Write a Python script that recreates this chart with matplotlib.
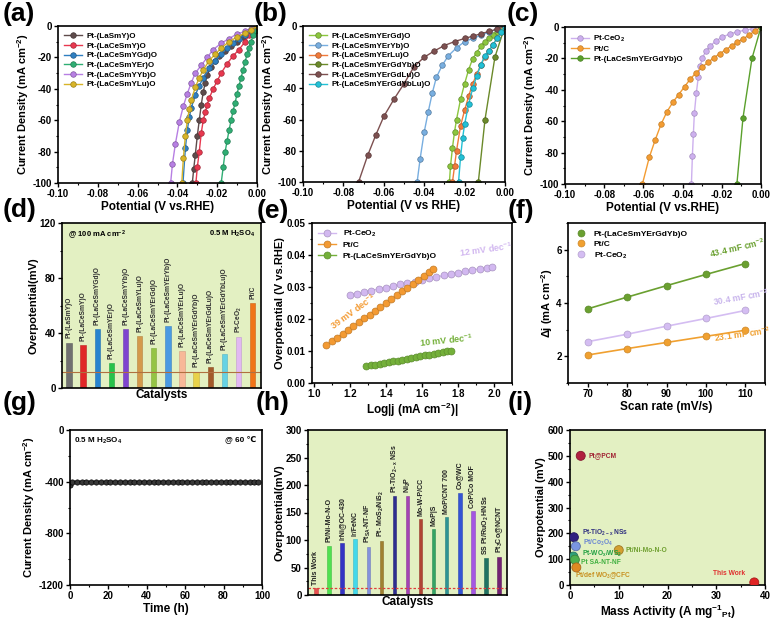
import matplotlib
matplotlib.use('Agg')
import matplotlib.pyplot as plt
from matplotlib.ticker import AutoMinorLocator

plt.rcParams['font.family'] = ['Liberation Sans', 'DejaVu Sans']
plt.rcParams['font.weight'] = 'bold'
plt.rcParams['axes.labelweight'] = 'bold'
plt.rcParams['mathtext.default'] = 'regular'
plt.rcParams['axes.unicode_minus'] = False

# ---------------- (a) LSV curves ----------------
a_names = ['Pt-(LaSmY)O', 'Pt-(LaCeSmY)O', 'Pt-(LaCeSmYGd)O',
           'Pt-(LaCeSmYEr)O', 'Pt-(LaCeSmYYb)O', 'Pt-(LaCeSmYLu)O']
a_colors = ['#5e4b4b', '#e8384f', '#2f7fc1', '#2fae74', '#b77fe3', '#d8b428']
a_v_lasmy = [0, -0.002, -0.004, -0.007, -0.010, -0.013, -0.016, -0.019, -0.021, -0.023,
             -0.025, -0.026, -0.027, -0.028, -0.029, -0.030, -0.031, -0.0318, -0.0325]
a_j_lasmy = [0, -2, -4, -7, -10, -13, -16, -19, -22, -26, -31, -36, -42, -50, -60, -70, -82, -91, -100]
a_v_lacesmy = [0, -0.002, -0.004, -0.006, -0.009, -0.012, -0.015, -0.018, -0.020, -0.022,
               -0.024, -0.025, -0.026, -0.027, -0.028, -0.029, -0.030, -0.0307]
a_j_lacesmy = [0, -3, -6, -10, -15, -19, -24, -30, -35, -40, -46, -50, -55, -60, -68, -80, -90, -100]
a_v_gd = [0, -0.003, -0.006, -0.009, -0.012, -0.015, -0.018, -0.021, -0.024, -0.027,
          -0.029, -0.031, -0.033, -0.034, -0.035, -0.036, -0.0372]
a_j_gd = [0, -3, -5.5, -8, -11, -14, -18, -22, -27, -33, -38, -44, -52, -58, -66, -78, -100]
a_v_er = [0, -0.001, -0.002, -0.003, -0.004, -0.005, -0.006, -0.007, -0.008, -0.009,
          -0.010, -0.011, -0.012, -0.013, -0.014, -0.015, -0.016, -0.017, -0.018]
a_j_er = [0, -3, -6, -10, -14, -18, -23, -28, -33, -38, -43, -49, -54, -60, -66, -73, -80, -90, -100]
a_v_yb = [0, -0.003, -0.006, -0.010, -0.014, -0.018, -0.022, -0.025, -0.028, -0.031,
          -0.033, -0.035, -0.037, -0.039, -0.041, -0.0425, -0.0434]
a_j_yb = [0, -2, -3.5, -5, -8, -11, -15, -20, -25, -30, -36, -43, -51, -61, -75, -88, -100]
a_v_lu = [0, -0.003, -0.006, -0.010, -0.014, -0.018, -0.021, -0.024, -0.027, -0.029,
          -0.031, -0.033, -0.034, -0.035, -0.036, -0.037, -0.0378]
a_j_lu = [0, -2.5, -4.5, -7, -10, -14, -18, -22, -28, -33, -39, -47, -53, -60, -70, -84, -100]

# ---------------- (b) LSV curves ----------------
b_names = ['Pt-(LaCeSmYErGd)O', 'Pt-(LaCeSmYErYb)O', 'Pt-(LaCeSmYErLu)O',
           'Pt-(LaCeSmYErGdYb)O', 'Pt-(LaCeSmYErGdLu)O', 'Pt-(LaCeSmYErGdYbLu)O']
b_colors = ['#8cc63e', '#78aee0', '#f07a3a', '#6b8a2a', '#7d5050', '#22c1d6']
b_v_ergd = [0, -0.002, -0.004, -0.006, -0.008, -0.010, -0.012, -0.014, -0.016, -0.018,
            -0.020, -0.022, -0.024, -0.025, -0.026, -0.027, -0.0275]
b_j_ergd = [0, -2, -4, -6, -8, -10, -13, -17, -21, -28, -37, -47, -60, -68, -78, -90, -100]
b_v_eryb = [0, -0.004, -0.008, -0.012, -0.016, -0.020, -0.024, -0.028, -0.031, -0.034,
            -0.036, -0.038, -0.040, -0.042, -0.0435]
b_j_eryb = [0, -2, -4, -6, -8, -10, -14, -19, -25, -33, -43, -55, -68, -85, -100]
b_v_erlu = [0, -0.002, -0.004, -0.006, -0.008, -0.010, -0.012, -0.014, -0.016, -0.018,
            -0.020, -0.022, -0.024, -0.025, -0.026]
b_j_erlu = [0, -4, -8, -12, -16, -20, -25, -31, -37, -45, -54, -64, -80, -90, -100]
b_v_ergdyb = [0, -0.005, -0.0099, -0.0132]
b_j_ergdyb = [0, -20, -60, -100]
b_v_ergdlu = [0, -0.004, -0.008, -0.012, -0.016, -0.020, -0.025, -0.030, -0.035, -0.040,
              -0.045, -0.050, -0.055, -0.060, -0.064, -0.068, -0.0725]
b_j_ergdlu = [0, -2, -3.5, -5, -6.5, -8, -10, -12.5, -16, -20, -26, -37, -47, -58, -70, -83, -100]
b_v_ergdyblu = [0, -0.002, -0.004, -0.006, -0.008, -0.010, -0.012, -0.014, -0.016, -0.018,
                -0.020, -0.021, -0.022, -0.023]
b_j_ergdyblu = [0, -4, -8, -12, -16, -19, -25, -32, -40, -50, -63, -72, -84, -100]

# ---------------- (c) LSV curves ----------------
c_names = ['Pt-CeO$_2$', 'Pt/C', 'Pt-(LaCeSmYErGdYb)O']
c_colors = ['#cdb0ee', '#f39c32', '#5aa02c']
c_v_ceo2 = [0, -0.004, -0.008, -0.012, -0.016, -0.020, -0.023, -0.026, -0.028, -0.030,
            -0.031, -0.032, -0.033, -0.034, -0.0345, -0.035, -0.0355]
c_j_ceo2 = [0, -1, -2, -3, -4.5, -6.5, -9, -12, -15, -20, -25, -32, -42, -55, -68, -82, -100]
c_v_ptc = [0, -0.003, -0.006, -0.009, -0.012, -0.015, -0.018, -0.021, -0.024, -0.027, -0.030,
           -0.033, -0.036, -0.039, -0.042, -0.045, -0.048, -0.051, -0.054, -0.057, -0.0605]
c_j_ptc = [0, -2.5, -5, -7.5, -9.5, -12, -14.5, -17, -19.5, -22.5, -25.5,
           -29, -33, -38, -43, -48, -54, -62, -72, -83, -100]
c_v_best = [0, -0.0046, -0.0092, -0.0123]
c_j_best = [0, -20, -58, -100]

# ---------------- (d) overpotential bars ----------------
d_labels = ['Pt-(LaSmY)O', 'Pt-(LaCeSmY)O', 'Pt-(LaCeSmYGd)O', 'Pt-(LaCeSmYEr)O',
            'Pt-(LaCeSmYYb)O', 'Pt-(LaCeSmYLu)O', 'Pt-(LaCeSmYErGd)O', 'Pt-(LaCeSmYErYb)O',
            'Pt-(LaCeSmYErLu)O', 'Pt-(LaCeSmYErGdYb)O', 'Pt-(LaCeSmYErGdLu)O',
            'Pt-(LaCeSmYErGdYbLu)O', 'Pt-CeO$_2$', 'Pt/C']
d_values = [33, 31, 43, 18, 43, 38, 29, 45, 27, 12, 15, 25, 37, 62]
d_colors = ['#707070', '#e02828', '#2784cf', '#27c24a', '#7f45cf', '#d49a4c', '#94c444',
            '#4a9ae2', '#f8b898', '#e8d24a', '#a35a2a', '#66d2e4', '#e2b8f2', '#f07418']

# ---------------- (e) Tafel ----------------
e_x_ceo2 = [1.20, 1.24, 1.28, 1.32, 1.36, 1.40, 1.44, 1.48, 1.52, 1.56, 1.60,
            1.64, 1.68, 1.72, 1.76, 1.80, 1.84, 1.88, 1.92, 1.96, 1.99]
e_y_ceo2 = [0.0275, 0.0279, 0.0284, 0.0289, 0.0294, 0.0298, 0.0303, 0.0308, 0.0313, 0.0317, 0.0322,
            0.0327, 0.0331, 0.0336, 0.0340, 0.0345, 0.0349, 0.0353, 0.0357, 0.0360, 0.0362]
e_x_ptc = [1.07, 1.10, 1.13, 1.16, 1.19, 1.22, 1.25, 1.28, 1.31, 1.34, 1.37,
           1.40, 1.43, 1.46, 1.49, 1.52, 1.55, 1.58, 1.61, 1.64, 1.66]
e_y_ptc = [0.0118, 0.0130, 0.0142, 0.0154, 0.0166, 0.0178, 0.0190, 0.0202, 0.0214, 0.0226, 0.0238,
           0.0250, 0.0262, 0.0274, 0.0286, 0.0298, 0.0310, 0.0322, 0.0334, 0.0346, 0.0355]
e_x_best = [1.29, 1.315, 1.34, 1.365, 1.39, 1.415, 1.44, 1.465, 1.49, 1.515,
            1.54, 1.565, 1.59, 1.615, 1.64, 1.665, 1.69, 1.715, 1.74, 1.76]
e_y_best = [0.0052, 0.0055, 0.0057, 0.0060, 0.0063, 0.0065, 0.0068, 0.0070, 0.0073, 0.0075,
            0.0078, 0.0081, 0.0083, 0.0086, 0.0088, 0.0091, 0.0094, 0.0096, 0.0099, 0.0101]

# ---------------- (f) Cdl ----------------
f_scan = [70, 80, 90, 100, 110]
f_best = [3.78, 4.22, 4.65, 5.07, 5.48]
f_ptc = [2.05, 2.29, 2.52, 2.75, 2.98]
f_ceo2 = [2.55, 2.83, 3.13, 3.42, 3.72]

# ---------------- (g) stability ----------------
g_time = [0, 1, 3.5, 6, 8.5, 11, 13.5, 16, 18.5, 21, 23.5, 26, 28.5, 31, 33.5, 36, 38.5, 41,
          43.5, 46, 48.5, 51, 53.5, 56, 58.5, 61, 63.5, 66, 68.5, 71, 73.5, 76, 78.5, 81,
          83.5, 86, 88.5, 91, 93.5, 96, 98]
g_current = [-425, -405, -400, -400, -401, -400, -400, -400, -401, -400, -400, -400, -400, -401,
             -400, -400, -400, -400, -401, -400, -400, -400, -400, -400, -401, -400, -400, -400,
             -400, -400, -401, -400, -400, -400, -400, -400, -400, -401, -400, -400, -400]

# ---------------- (h) comparison bars ----------------
h_labels = ['This Work', 'Pt/Ni-Mo-N-O', 'IrNi@OC-430', 'Ir/FeNC', 'Pt$_{SA}$-NT-NF',
            'Pt- MoS$_2$/NiS$_2$', 'Pt-TiO$_{2-x}$ NSs', 'Ni$_2$P', 'Mo-W-P/CC', 'MoP|S',
            'MoP/CNT 700', 'Co@WC', 'CoP/Co MOF', 'SS Pt/RuO$_2$ HNSs', 'Pt$_3$Co@NCNT']
h_values = [12, 90, 94, 101, 88, 99, 180, 180, 138, 120, 142, 186, 152, 67, 70]
h_colors = ['#e85050', '#50e050', '#3434c4', '#44d8ea', '#8592dc', '#a08030', '#2e2e90',
            '#a442b4', '#b04434', '#34a464', '#2f9494', '#3454d4', '#a456e2', '#207262', '#722272']

# ---------------- (i) mass activity ----------------
i_labels = ['Pt@PCM', 'Pt-TiO$_{2-x}$ NSs', 'Pt/Co$_3$O$_4$', 'Pt-WO$_x$/WS$_2$',
            'Pt/Ni-Mo-N-O', 'Pt SA-NT-NF', 'Pt/def WO$_3$@CFC', 'This Work']
i_mass = [2.2, 0.8, 1.2, 0.7, 10.0, 1.0, 1.3, 37.8]
i_eta = [500, 185, 150, 110, 135, 98, 68, 10]
i_colors = ['#b02040', '#302080', '#7a96e2', '#2fa07a', '#d4a030', '#4eb04e', '#e08a22', '#e02424']
i_text_colors = ['#a02030', '#303080', '#6a86d2', '#20a040', '#70a030', '#40b040', '#c89020', '#e03030']
i_text_pos = [(3.8, 500), (2.4, 203), (2.6, 163), (2.4, 122), (11.4, 133), (2.2, 88), (1.0, 36), (36.0, 46)]

BG = '#e3f0c2'


def style(ax, xlabel, ylabel, minor_x=True):
    ax.set_xlabel(xlabel, fontsize=8.5, labelpad=1)
    ax.set_ylabel(ylabel, fontsize=8, labelpad=1)
    ax.tick_params(labelsize=7, direction='out', length=3, width=1, pad=1.5)
    ax.tick_params(which='minor', direction='out', length=1.6, width=0.8)
    if minor_x:
        ax.xaxis.set_minor_locator(AutoMinorLocator(2))
    ax.yaxis.set_minor_locator(AutoMinorLocator(2))
    for s in ax.spines.values():
        s.set_linewidth(1.2)


def darker(c, f=0.7):
    r, g, b = matplotlib.colors.to_rgb(c)
    return (r * f, g * f, b * f)


def lsv_axes(ax, xlabel):
    ax.set_xlim(-0.10, 0.0)
    ax.set_ylim(-100, 0)
    ax.set_xticks([-0.10, -0.08, -0.06, -0.04, -0.02, 0.00])
    ax.set_xticklabels(['-0.10', '-0.08', '-0.06', '-0.04', '-0.02', '0.00'])
    ax.set_yticks([-100, -80, -60, -40, -20, 0])
    style(ax, xlabel, 'Current Density (mA cm$^{-2}$)')
    ax.legend(loc='upper left', fontsize=5.8, frameon=False, handlelength=2.2,
              labelspacing=0.25, borderaxespad=0.4, handletextpad=0.5)


fig = plt.figure(figsize=(7.79, 6.21), dpi=100)
W, H = 779, 621


def add_ax(l, t, r, b):
    return fig.add_axes([l / W, 1 - b / H, (r - l) / W, (b - t) / H])


# (a)
ax = add_ax(58, 26, 257, 183)
a_series = [(a_v_lasmy, a_j_lasmy), (a_v_lacesmy, a_j_lacesmy), (a_v_gd, a_j_gd),
            (a_v_er, a_j_er), (a_v_yb, a_j_yb), (a_v_lu, a_j_lu)]
for (v, j), name, col in zip(a_series, a_names, a_colors):
    ax.plot(v, j, '-o', color=col, lw=1, ms=4, mfc=col, mec=darker(col), mew=0.5, label=name)
lsv_axes(ax, 'Potential (V vs.RHE)')

# (b)
ax = add_ax(303, 26, 505, 182)
b_series = [(b_v_ergd, b_j_ergd), (b_v_eryb, b_j_eryb), (b_v_erlu, b_j_erlu),
            (b_v_ergdyb, b_j_ergdyb), (b_v_ergdlu, b_j_ergdlu), (b_v_ergdyblu, b_j_ergdyblu)]
for (v, j), name, col in zip(b_series, b_names, b_colors):
    ax.plot(v, j, '-o', color=col, lw=1, ms=4, mfc=col, mec=darker(col), mew=0.5, label=name)
lsv_axes(ax, 'Potential (V vs RHE)')

# (c)
ax = add_ax(565, 27, 761, 184)
c_series = [(c_v_ceo2, c_j_ceo2), (c_v_ptc, c_j_ptc), (c_v_best, c_j_best)]
for (v, j), name, col in zip(c_series, c_names, c_colors):
    ax.plot(v, j, '-o', color=col, lw=1, ms=4, mfc=col, mec=darker(col, 0.8), mew=0.5, label=name)
lsv_axes(ax, 'Potential (V vs.RHE)')

# (d)
ax = add_ax(62, 223, 261, 388)
ax.set_facecolor(BG)
xd = list(range(len(d_values)))
ax.bar(xd, d_values, width=0.38, color=d_colors, edgecolor=[darker(c, 0.85) for c in d_colors], lw=0.4)
for x, v, lab in zip(xd, d_values, d_labels):
    ax.text(x, v + 3, lab, rotation=90, ha='center', va='bottom', fontsize=4.8, color='#303030')
ax.axhline(12, color='#b07040', lw=0.8)
ax.set_xlim(-0.5, 13.6)
ax.set_ylim(0, 120)
ax.set_yticks([0, 40, 80, 120])
ax.set_xticks([])
style(ax, 'Catalysts', 'Overpotential(mV)', minor_x=False)
ax.text(0.03, 0.965, '@ 100 mA cm$^{-2}$', transform=ax.transAxes, fontsize=5.5, va='top')
ax.text(0.97, 0.965, '0.5 M H$_2$SO$_4$', transform=ax.transAxes, fontsize=5.5, va='top', ha='right')

# (e)
ax = add_ax(312, 223, 512, 383)
e_series = [(e_x_ceo2, e_y_ceo2, 'Pt-CeO$_2$', '#d2b8f0'),
            (e_x_ptc, e_y_ptc, 'Pt/C', '#f39a32'),
            (e_x_best, e_y_best, 'Pt-(LaCeSmYErGdYb)O', '#74b03a')]
for x, y, name, col in e_series:
    ax.plot(x, y, '-o', color=col, lw=1, ms=5, mfc=col, mec=darker(col, 0.8), mew=0.5, label=name)
ax.set_xlim(0.99, 2.1)
ax.set_ylim(0, 0.05)
ax.set_xticks([1.0, 1.2, 1.4, 1.6, 1.8, 2.0])
ax.set_xticklabels(['1.0', '1.2', '1.4', '1.6', '1.8', '2.0'])
ax.set_yticks([0.0, 0.01, 0.02, 0.03, 0.04, 0.05])
ax.set_yticklabels(['0.00', '0.01', '0.02', '0.03', '0.04', '0.05'])
style(ax, 'Log|j (mA cm$^{-2}$)|', 'Overpotential (V vs.RHE)')
ax.legend(loc='upper left', fontsize=6, frameon=False, handlelength=2.2,
          labelspacing=0.3, borderaxespad=0.3)
ax.text(1.80, 0.0395, '12 mV dec$^{-1}$', color='#d2b8f0', fontsize=6.5, rotation=8)
ax.text(1.08, 0.0165, '39 mV dec$^{-1}$', color='#f39a32', fontsize=6.5, rotation=36)
ax.text(1.58, 0.0113, '10 mV dec$^{-1}$', color='#74b03a', fontsize=6.5, rotation=6)

# (f)
ax = add_ax(568, 223, 765, 383)
f_series = [(f_best, 'Pt-(LaCeSmYErGdYb)O', '#6aa030'),
            (f_ptc, 'Pt/C', '#f0a030'),
            (f_ceo2, 'Pt-CeO$_2$', '#d4bdf2')]
for y, name, col in f_series:
    ax.plot(f_scan, y, '-', color=col, lw=1.2)
    ax.plot(f_scan, y, 'o', color=col, ms=5, mec=darker(col, 0.85), mew=0.5, label=name, ls='none')
ax.set_xlim(65, 115)
ax.set_ylim(1, 7)
ax.set_xticks([70, 80, 90, 100, 110])
ax.set_yticks([2, 4, 6])
style(ax, 'Scan rate (mV/s)', '$\\Delta$j (mA cm$^{-2}$)')
ax.legend(loc='upper left', fontsize=6, frameon=False, handlelength=1.5,
          labelspacing=0.3, borderaxespad=0.4)
ax.text(100.5, 5.68, '43.4 mF cm$^{-2}$', color='#6aa030', fontsize=6.3, rotation=13)
ax.text(101.5, 3.88, '30.4 mF cm$^{-2}$', color='#c8b4ec', fontsize=6.3, rotation=10)
ax.text(102, 2.55, '23.1 mF cm$^{-2}$', color='#f0a030', fontsize=6.3, rotation=8)

# (g)
ax = add_ax(70, 430, 262, 585)
ax.plot(g_time, g_current, '-o', color='black', lw=1, ms=3.8, mfc='#383838', mec='black', mew=0.5)
ax.set_xlim(0, 100)
ax.set_ylim(-1200, 0)
ax.set_xticks([0, 20, 40, 60, 80, 100])
ax.set_yticks([-1200, -800, -400, 0])
style(ax, 'Time (h)', 'Current Density (mA cm$^{-2}$)')
ax.text(0.02, 0.965, '0.5 M H$_2$SO$_4$', transform=ax.transAxes, fontsize=5.8, va='top')
ax.text(0.97, 0.965, '@ 60 \u2103', transform=ax.transAxes, fontsize=5.8, va='top', ha='right')

# (h)
ax = add_ax(308, 430, 507, 595)
ax.set_facecolor(BG)
xh = list(range(len(h_values)))
ax.bar(xh, h_values, width=0.26, color=h_colors, edgecolor=[darker(c, 0.85) for c in h_colors], lw=0.4)
for x, v, lab in zip(xh, h_values, h_labels):
    ax.text(x, v + 6, lab, rotation=90, ha='center', va='bottom', fontsize=5, color='#202020')
ax.axhline(12, color='#e03c3c', lw=0.9, ls=(0, (2, 1.5)))
ax.set_xlim(-0.6, 14.6)
ax.set_ylim(0, 300)
ax.set_yticks([0, 50, 100, 150, 200, 250, 300])
ax.set_xticks([])
style(ax, 'Catalysts', 'Overpotential(mV)', minor_x=False)

# (i)
ax = add_ax(570, 430, 765, 585)
ax.set_facecolor(BG)
ax.scatter(i_mass, i_eta, s=42, c=i_colors, edgecolors=[darker(c, 0.75) for c in i_colors],
           linewidths=0.6, zorder=3)
for lab, pos, col in zip(i_labels, i_text_pos, i_text_colors):
    ha = 'right' if lab == 'This Work' else 'left'
    ax.text(pos[0], pos[1], lab, color=col, fontsize=4.8, ha=ha, va='center')
ax.set_xlim(0, 40)
ax.set_ylim(0, 600)
ax.set_xticks([0, 10, 20, 30, 40])
ax.set_yticks([0, 100, 200, 300, 400, 500, 600])
style(ax, 'Mass Activity (A mg$^{-1}$$_{Pt}$)', 'Overpotential (mV)')

# panel letters
for lab, (px, py) in zip('abcdefghi', [(3, 2), (254, 2), (507, 2), (3, 198), (257, 199),
                                       (508, 199), (3, 391), (256, 391), (508, 391)]):
    fig.text(px / W, 1 - py / H, '(%s)' % lab, fontsize=19, fontweight='bold', va='top', ha='left')

fig.savefig('out.png', dpi=100)
